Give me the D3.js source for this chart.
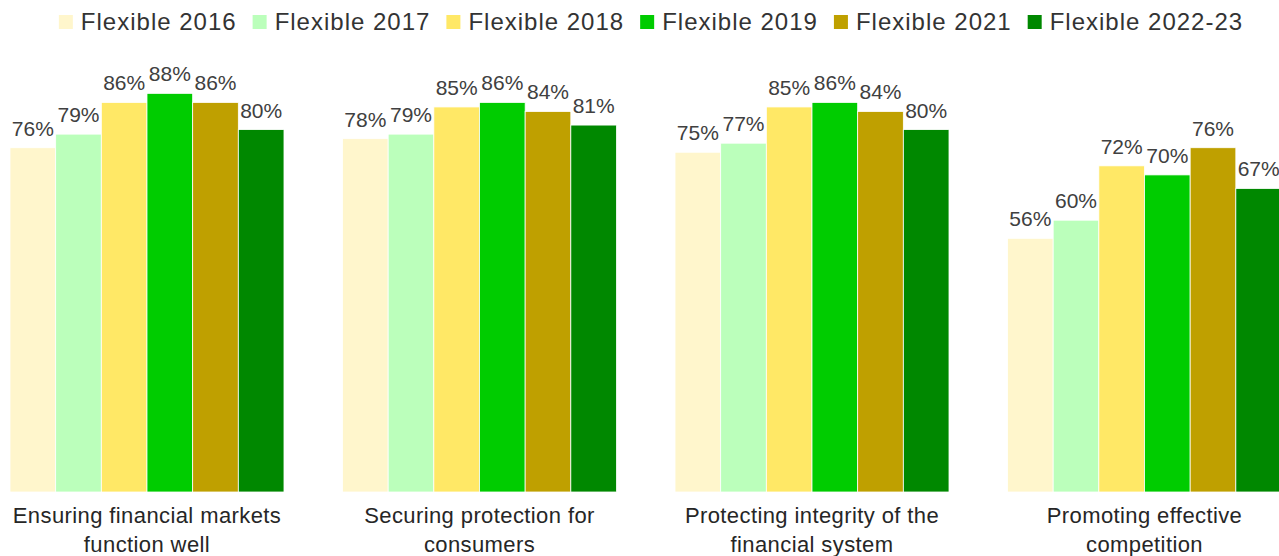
<!DOCTYPE html>
<html><head><meta charset="utf-8">
<script src="https://cdn.jsdelivr.net/npm/d3@7"></script>
<style>body{margin:0;background:#fff}svg{display:block;font-family:"Liberation Sans",Arial,sans-serif}</style>
</head><body><svg id="c" width="1279" height="556"></svg>
<script>
const categories = [["Ensuring financial markets","function well"],["Securing protection for","consumers"],["Protecting integrity of the","financial system"],["Promoting effective","competition"]];
const seriesNames = ["Flexible 2016","Flexible 2017","Flexible 2018","Flexible 2019","Flexible 2021","Flexible 2022-23"];
const flex2016 = [76,78,75,56];
const flex2017 = [79,79,77,60];
const flex2018 = [86,85,85,72];
const flex2019 = [88,86,86,70];
const flex2021 = [86,84,84,76];
const flex2022 = [80,81,80,67];
const seriesValues = [flex2016,flex2017,flex2018,flex2019,flex2021,flex2022];
const colors = ["#FFF6CC","#BBFFBB","#FFE866","#00CC00","#BFA000","#008800"];

const svg = d3.select("#c");
const x0 = d3.scaleBand().domain(d3.range(categories.length)).range([10,1281.5]).paddingInner(0.176).paddingOuter(0);
const x1 = d3.scaleBand().domain(d3.range(seriesNames.length)).range([0,x0.bandwidth()]);
const y = d3.scaleLinear().domain([0,100]).range([492,39]);

const g = svg.append("g");
categories.forEach((c,ci)=>{
  const gg = g.append("g").attr("transform",`translate(${x0(ci)},0)`);
  seriesValues.forEach((vals,si)=>{
    const v = vals[ci];
    gg.append("rect").attr("x",x1(si)).attr("y",y(v)).attr("width",x1.bandwidth()).attr("height",y(0)-y(v))
      .attr("fill",colors[si]).attr("stroke","#fff").attr("stroke-width",0.8);
    gg.append("text").attr("x",x1(si)+x1.bandwidth()/2).attr("y",y(v)-12).attr("text-anchor","middle")
      .attr("font-size",21).attr("fill","#404040").text(v+"%");
  });
  const t = gg.append("text").attr("text-anchor","middle").attr("font-size",22).attr("letter-spacing",0.4).attr("fill","#262626");
  c.forEach((line,li)=>{
    t.append("tspan").attr("x",x0.bandwidth()/2).attr("y",523+li*29).text(line);
  });
});

// legend
const lg = svg.append("g");
let cx = 0;
seriesNames.forEach((n,i)=>{
  const it = lg.append("g").attr("transform",`translate(${cx},0)`);
  it.append("rect").attr("x",0).attr("y",15).attr("width",14).attr("height",14).attr("fill",colors[i]);
  const tx = it.append("text").attr("x",22).attr("y",30).attr("font-size",24).attr("letter-spacing",1).attr("fill","#333").text(n);
  cx += 22 + tx.node().getComputedTextLength() + 16;
});
const total = cx - 16;
lg.attr("transform",`translate(${651-total/2},0)`);
</script></body></html>
